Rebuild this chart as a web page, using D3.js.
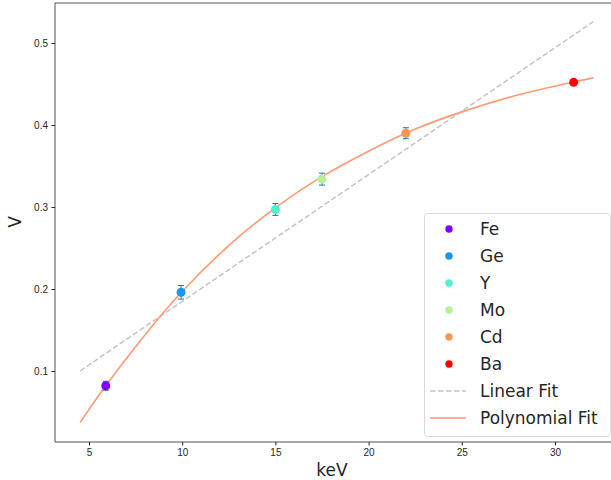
<!DOCTYPE html>
<html>
<head>
<meta charset="utf-8">
<script src="https://cdn.jsdelivr.net/npm/d3@7"></script>
<style>
  body { margin: 0; background: #fff; }
  svg { font-family: "DejaVu Sans", sans-serif; }
  .axis text { font-size: 10px; fill: #262626; }
  .axis path { display: none; }
  .axis line { stroke: #262626; }
</style>
</head>
<body>
<div id="chart"></div>
<script>
// element lines
const elements = ["Fe", "Ge", "Y", "Mo", "Cd", "Ba"]
const energy = [5.9, 9.94, 15.0, 17.5, 22.0, 31.0]
const volts = [0.082, 0.196, 0.297, 0.334, 0.390, 0.452]
const voltErr = [0.0055, 0.0083, 0.0073, 0.0073, 0.0067, 0.003]
const colors = ["#8000ff", "#1996f3", "#4df3ce", "#b3f396", "#ff964f", "#ff0000"]

// fit curves
const linearX = [4.52, 32.05]
const linearY = [0.100, 0.526]
const polyX = [4.52, 5.9, 8.0, 10.0, 12.5, 15.0, 17.5, 20.0, 22.5, 25.0, 28.0, 31.0, 32.05]
const polyY = [0.037, 0.082, 0.144, 0.197, 0.253, 0.299, 0.337, 0.368, 0.395, 0.416, 0.4366, 0.4525, 0.4575]

const xTicks = [5, 10, 15, 20, 25, 30]
const yTicks = [0.1, 0.2, 0.3, 0.4, 0.5]

const W = 611, H = 480
const margin = {left: 55, top: 3, bottom: 442}

const svg = d3.select("#chart").append("svg")
  .attr("width", W)
  .attr("height", H)

const x = d3.scaleLinear().domain([5, 30]).range([89, 555])
const y = d3.scaleLinear().domain([0.1, 0.5]).range([371, 43])

//Axes
svg.append("g")
  .attr("class", "axis")
  .attr("transform", "translate(0," + margin.bottom + ")")
  .call(d3.axisBottom(x).tickValues(xTicks).tickSize(3.5).tickPadding(3.5).tickFormat(d3.format("d")))

svg.append("g")
  .attr("class", "axis")
  .attr("transform", "translate(" + margin.left + ",0)")
  .call(d3.axisLeft(y).tickValues(yTicks).tickSize(3.5).tickPadding(3.5).tickFormat(d3.format(".1f")))

//Spines
svg.append("path")
  .attr("d", "M" + W + "," + margin.top + "H" + margin.left + "V" + margin.bottom + "H" + W)
  .attr("fill", "none")
  .attr("stroke", "#262626")
  .attr("stroke-width", 0.8)

//Labels
svg.append("text")
  .attr("x", 332).attr("y", 476)
  .attr("text-anchor", "middle")
  .style("font-size", "17px")
  .style("fill", "#262626")
  .text("keV")

svg.append("text")
  .attr("transform", "translate(21,222) rotate(-90)")
  .attr("text-anchor", "middle")
  .style("font-size", "17px")
  .style("fill", "#262626")
  .text("V")

const line = d3.line().x(d => x(d[0])).y(d => y(d[1]))

//Fits
svg.append("path")
  .datum(d3.zip(linearX, linearY))
  .attr("d", line)
  .attr("fill", "none")
  .attr("stroke", "#c4c4c4")
  .attr("stroke-width", 1.5)
  .attr("stroke-dasharray", "5.5,2.5")

svg.append("path")
  .datum(d3.zip(polyX, polyY))
  .attr("d", line.curve(d3.curveNatural))
  .attr("fill", "none")
  .attr("stroke", "#ff9a70")
  .attr("stroke-width", 1.6)

//Error bars
const points = elements.map((name, i) => ({
  name: name, e: energy[i], v: volts[i], err: voltErr[i], color: colors[i]
}))

const bars = svg.append("g").attr("stroke", "#1f77b4").attr("stroke-width", 1)
points.forEach(d => {
  const cx = x(d.e)
  bars.append("line").attr("x1", cx).attr("x2", cx)
    .attr("y1", y(d.v - d.err)).attr("y2", y(d.v + d.err))
  ;[d.v - d.err, d.v + d.err].forEach(v => {
    bars.append("line").attr("x1", cx - 3).attr("x2", cx + 3)
      .attr("y1", y(v)).attr("y2", y(v))
  })
})

svg.append("g").selectAll("circle")
  .data(points)
  .enter()
  .append("circle")
  .attr("cx", d => x(d.e))
  .attr("cy", d => y(d.v))
  .attr("r", 4.5)
  .attr("fill", d => d.color)

//Legend
const lg = svg.append("g").attr("transform", "translate(424,213)")
lg.append("rect")
  .attr("x", 0.5).attr("y", 0.5)
  .attr("width", 186).attr("height", 223)
  .attr("rx", 3)
  .attr("fill", "rgba(255,255,255,0.8)")
  .attr("stroke", "#d9d9d9")

const rowH = 27
const labels = elements.concat(["Linear Fit", "Polynomial Fit"])
labels.forEach((name, i) => {
  const cy = 16 + i * rowH
  if (i < elements.length) {
    lg.append("circle").attr("cx", 25).attr("cy", cy).attr("r", 3.7).attr("fill", colors[i])
  } else if (name === "Linear Fit") {
    lg.append("line").attr("x1", 6).attr("x2", 42).attr("y1", cy).attr("y2", cy)
      .attr("stroke", "#c4c4c4").attr("stroke-width", 1.5).attr("stroke-dasharray", "5.5,2.5")
  } else {
    lg.append("line").attr("x1", 6).attr("x2", 42).attr("y1", cy).attr("y2", cy)
      .attr("stroke", "#ff9a70").attr("stroke-width", 1.6)
  }
  lg.append("text")
    .attr("x", 56).attr("y", cy + 6)
    .style("font-size", "17px")
    .style("fill", "#262626")
    .text(name)
})
</script>
</body>
</html>
